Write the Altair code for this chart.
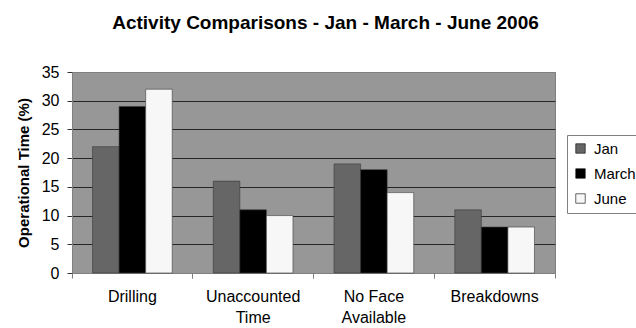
import altair as alt
import pandas as pd

# Activity categories (line breaks marked with "\n") and the three survey months
categories = ["Drilling", "Unaccounted\nTime", "No Face\nAvailable", "Breakdowns"]
months = ["Jan", "March", "June"]

# Share of operational time (%) per category, one list per month
jan = [22, 16, 19, 11]
march = [29, 11, 18, 8]
june = [32, 10, 14, 8]

month_colors = ["#666666", "#000000", "#f7f7f7"]

rows = []
for m, vals in zip(months, [jan, march, june]):
    for c, v in zip(categories, vals):
        rows.append({"activity": c, "month": m, "pct": v})
df = pd.DataFrame(rows)

FONT = "Liberation Sans"
PAD_INNER = 0.34
# Shift of the boundary ticks relative to a band, so they sit between categories
edge = PAD_INNER / (2 * (1 - PAD_INNER))

x_scale = alt.Scale(paddingInner=PAD_INNER, paddingOuter=PAD_INNER / 2)

bars = alt.Chart(df).mark_bar(stroke="#3a3a3a", strokeWidth=0.6).encode(
    x=alt.X(
        "activity:N",
        sort=categories,
        scale=x_scale,
        title=None,
        axis=alt.Axis(
            orient="bottom",
            labelAngle=0,
            labelExpr="split(datum.label, '\\n')",
            labelFont=FONT,
            labelFontSize=16,
            labelColor="#000000",
            labelPadding=15,
            labelLineHeight=21,
            ticks=False,
            domainColor="#808080",
            grid=False,
        ),
    ),
    xOffset=alt.XOffset("month:N", sort=months, scale=alt.Scale(paddingInner=0)),
    y=alt.Y(
        "pct:Q",
        scale=alt.Scale(domain=[0, 35], nice=False),
        title="Operational Time (%)",
        axis=alt.Axis(
            values=[0, 5, 10, 15, 20, 25, 30, 35],
            labelFont=FONT,
            labelFontSize=16,
            labelColor="#000000",
            labelPadding=8,
            tickSize=5,
            tickColor="#333333",
            domainColor="#808080",
            gridColor={
                "condition": {"test": "datum.value == 0 || datum.value == 35", "value": "#808080"},
                "value": "#262626",
            },
            gridWidth=1.2,
            titleFont=FONT,
            titleFontSize=15,
            titleFontWeight="bold",
            titleColor="#000000",
            titlePadding=10,
        ),
    ),
    color=alt.Color(
        "month:N",
        sort=months,
        scale=alt.Scale(domain=months, range=month_colors),
        legend=alt.Legend(
            title=None,
            orient="none",
            legendX=495,
            legendY=63,
            symbolType="square",
            symbolSize=90,
            symbolStrokeColor="#000000",
            symbolStrokeWidth=0.6,
            labelFont=FONT,
            labelFontSize=15,
            labelColor="#000000",
            labelOffset=6,
            rowPadding=9,
            padding=6,
            fillColor="#ffffff",
            strokeColor="#808080",
        ),
    ),
)


def boundary_ticks(band_pos):
    # Invisible layer that only contributes category-boundary tick marks
    return alt.Chart(df).mark_bar(opacity=0).encode(
        x=alt.X(
            "activity:N",
            sort=categories,
            title=None,
            axis=alt.Axis(
                orient="bottom",
                labels=False,
                domain=False,
                grid=False,
                ticks=True,
                tickSize=5,
                tickColor="#808080",
                bandPosition=band_pos,
            ),
        ),
        y=alt.Y("pct:Q", stack=None, axis=None),
    )


chart = (
    alt.layer(bars, boundary_ticks(-edge), boundary_ticks(1 + edge))
    .resolve_axis(x="independent", y="independent")
    .properties(
        width=483,
        height=201,
        autosize=alt.AutoSizeParams(type="none"),
        padding={"left": 72, "top": 72, "right": 81, "bottom": 55},
        background="#ffffff",
        title=alt.Title(
            "Activity Comparisons - Jan - March - June 2006",
            font=FONT,
            fontSize=19,
            fontWeight="bold",
            color="#000000",
            anchor="middle",
            baseline="alphabetic",
            offset=16,
            dx=12,
        ),
    )
    .configure_view(fill="#979797", stroke="#808080", strokeWidth=1)
)

chart.save("out.html", embed_options={"renderer": "svg", "actions": False})
